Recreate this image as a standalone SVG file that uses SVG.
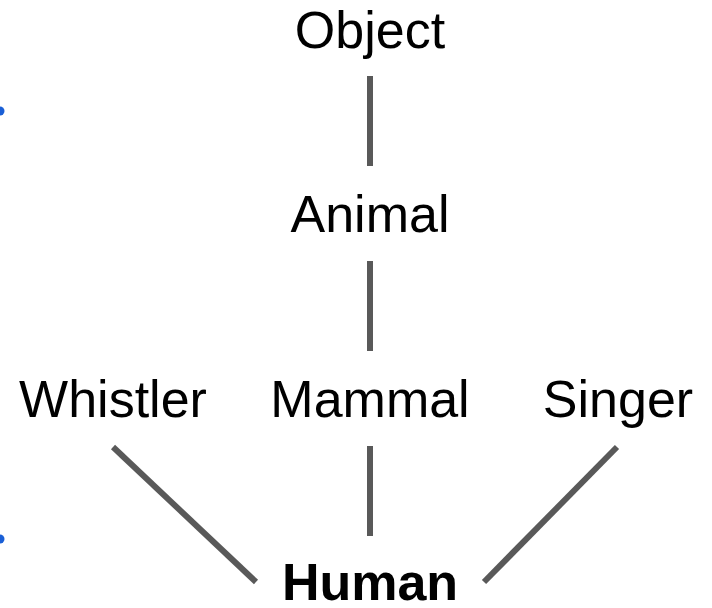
<svg xmlns="http://www.w3.org/2000/svg" width="712" height="608" viewBox="0 0 712 608">
<style>
text{font-family:"Liberation Sans",Arial,sans-serif;font-size:52px;fill:#000;text-anchor:middle}
.b{font-weight:bold}
.c line{stroke:#595959;stroke-width:6}
</style>
<rect width="712" height="608" fill="#fff"/>
<circle cx="0" cy="111" r="4.5" fill="#1a5fd6"/>
<circle cx="0" cy="539" r="4.5" fill="#1a5fd6"/>
<g class="c" id="connectors">
<line x1="370" y1="76" x2="370" y2="166"/>
<line x1="370" y1="261" x2="370" y2="351"/>
<line x1="370" y1="446" x2="370" y2="536"/>
<line x1="113" y1="447" x2="256" y2="582"/>
<line x1="617" y1="447" x2="484" y2="582"/>
</g>
<g id="object"><text x="370" y="48">Object</text></g>
<g id="animal"><text x="370" y="232">Animal</text></g>
<g id="whistler"><text x="113" y="417">Whistler</text></g>
<g id="mammal"><text x="370" y="417">Mammal</text></g>
<g id="singer"><text x="618" y="417">Singer</text></g>
<g id="human"><text class="b" x="370" y="600">Human</text></g>
</svg>
